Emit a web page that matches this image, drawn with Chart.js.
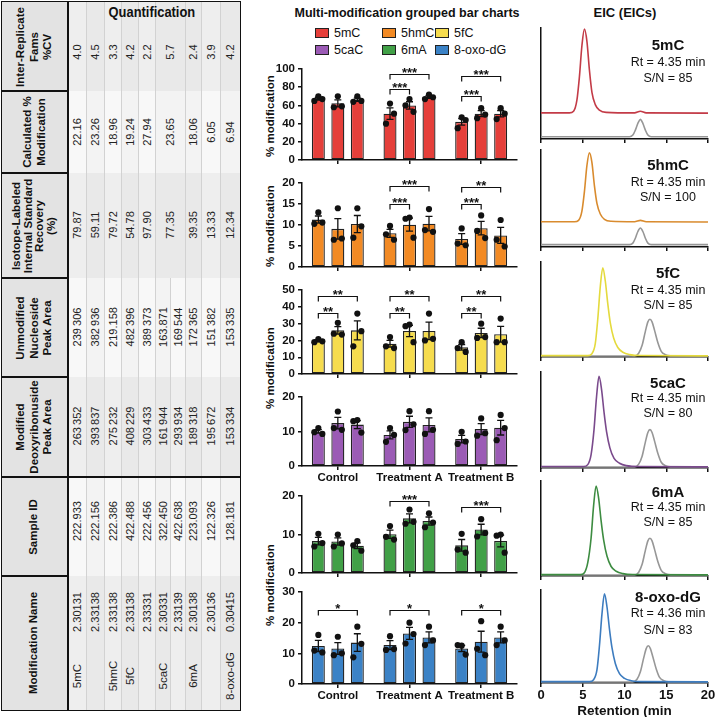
<!DOCTYPE html>
<html><head><meta charset="utf-8">
<script src="https://cdn.jsdelivr.net/npm/chart.js@4.4.1/dist/chart.umd.min.js"></script>
<style>
html,body{margin:0;padding:0;background:#fff;}
#root{position:relative;width:717px;height:717px;overflow:hidden;font-family:'Liberation Sans',Arial,Helvetica,sans-serif;color:#111;}
canvas{position:absolute;}
</style></head><body><div id="root"></div>
<script>
// ================= DATA =================
// --- Quantification table (rotated) ---
const tableHeaders = [
  ['Inter-Replicate','Fams','%CV'],
  ['Calculated %','Modification'],
  ['Isotope-Labeled','Internal Standard','Recovery','(%)'],
  ['Unmodified','Nucleoside','Peak Area'],
  ['Modified','Deoxyribonuside','Peak Area'],
  ['Sample ID'],
  ['Modification Name']
];
const interCV     = ['4.0','4.5','3.3','4.2','2.2','5.7',null,'2.4','3.9','4.2'];
const calcMod     = ['22.16','23.26','18.96','19.24','27.94','23.65',null,'18.06','6.05','6.94'];
const isoRecovery = ['79.87','59.11','79.72','54.78','97.90','77.35',null,'39.35','13.33','12.34'];
const unmodArea   = ['239\u2009306','382\u2009936','219.158','482\u2009396','389\u2009373','163.871','169\u2009544','172\u2009365','151\u2009382','153\u2009335'];
const modArea     = ['263\u2009352','393\u2009837','275\u2009232','408\u2009229','303\u2009433','161\u2009944','293\u2009934','189\u2009318','195\u2009672','153\u2009334'];
const sampleIds   = ['222.933','222.156','222.386','422.488','222.456','322.450','422.638','223.093','122.326','128.181'];
const modValues   = ['2.30131','2.33138','2.33138','2.33138','2.33331','2.30331','2.33139','2.30138','2.30136','0.30415'];
const modNames    = ['5mC','','5hmC','5fC','','5caC','','6mA','','8-oxo-dG'];

// --- Grouped bar charts ---
const groups = ['Control','Treatment A','Treatment B'];
const modifications = ['5mC','5hmC','5fC','5caC','6mA','8-oxo-dG'];
const yMaxes = [100,20,50,20,20,30];
const ySteps = [20,5,10,10,10,10];
// replicates: [group][bar][replicate]
const rep5mC  = [[[70,65,67],[70,58,59],[70,64,65]], [[62,40,51],[67,60,53],[72,67,69]], [[47,35,44],[57,46,50],[57,45,51]]];
const rep5hmC = [[[13,10.3,10.6],[14,6.5,6.8],[14,7,9.7]], [[9.8,7.8,6.5],[11.8,11.5,7.0],[13.8,8.8,8.4]], [[9.2,5.6,5.2],[12.3,8.6,6.9],[11.2,6.5,4.9]]];
const rep5fC  = [[[20.8,19,19.5],[30.5,24,23.5],[36,16.5,25.5]], [[22,16.5,15.5],[29.5,28.5,19],[36,20,21]], [[19,15.5,13.2],[30,21.5,22],[33,19,19]]];
const rep5caC = [[[11,9.8,9.3],[15.8,11,10.5],[13.3,13,9.7]], [[11,7,9],[15.9,10.4,12.1],[15.9,9.3,10.5]], [[9.9,6.4,7.1],[13.8,8.8,9.5],[14.8,7.5,11]]];
const rep6mA  = [[[10.2,6.9,7.8],[10,6.9,7.7],[8.3,7.2,5.8]], [[12.2,9.4,8.7],[16.5,12.8,13.3],[15.5,11.9,13.1]], [[10.2,6.1,5.3],[14,9.5,10.4],[10,9.7,5.3]]];
const repOxo  = [[[16,10.9,10.3],[15.4,9.4,10],[18.7,8.7,13.1]], [[15.6,11.1,11.4],[20,13.2,16.3],[18.7,12.7,14.2]], [[12.5,12.7,9.6],[20.5,11.5,9.4],[18.7,12.7,14.2]]];
// significance brackets: [group, fromBar, toBar, yValue, label]
const brk5mC  = [[1,0,1,78,'***'],[1,0,2,94.5,'***'],[2,0,1,70.5,'***'],[2,0,2,92.5,'***']];
const brk5hmC = [[1,0,1,15,'***'],[1,0,2,19.2,'***'],[2,0,1,15,'***'],[2,0,2,19,'**']];
const brk5fC  = [[0,0,1,36.2,'**'],[0,0,2,46.2,'**'],[1,0,1,36.2,'**'],[1,0,2,46.2,'**'],[2,0,1,36.2,'**'],[2,0,2,46.2,'**']];
const brk5caC = [];
const brk6mA  = [[1,0,2,18.8,'***'],[2,0,2,17.2,'***']];
const brkOxo  = [[0,0,2,24.1,'*'],[1,0,2,24.1,'*'],[2,0,2,24.1,'*']];

// --- EIC chromatograms: [retention min, relative intensity %] ---
const eicNames = ['5mC','5hmC','5fC','5caC','6mA','8-oxo-dG'];
const eicRt = ['Rt = 4.35 min','Rt = 4.35 min','Rt = 4.35 min','Rt = 4.35 min','Rt = 4.35 min','Rt = 4.36 min'];
const eicSN = ['S/N = 85','S/N = 100','S/N = 85','S/N = 80','S/N = 85','S/N = 83'];
const retentionTicks = [0,5,10,15,20];
const trace5mC  = [[0,23.5],[3.4,23.5],[3.9,25],[4.3,35],[4.6,56],[4.9,84],[5.2,99],[5.5,88],[5.8,62],[6.1,42],[6.5,31],[7.0,26],[7.8,24],[11.2,23.5],[11.9,25],[12.6,23.5],[20,23.3]];
const is5mC     = [[0,2],[10.6,2],[11.0,3.5],[11.3,8],[11.6,14],[11.9,17.7],[12.2,14],[12.5,8],[12.8,3.5],[13.2,2],[20,2]];
const trace5hmC = [[0,26],[4.0,26],[4.5,27.5],[4.9,37],[5.2,57],[5.5,84],[5.8,97],[6.1,87],[6.4,63],[6.7,45],[7.1,34],[7.6,28.5],[8.4,26.5],[11.2,26],[11.9,27.5],[12.6,26],[20,25.8]];
const is5hmC    = [[0,2.5],[10.6,2.5],[11.0,4],[11.3,9],[11.6,16],[11.9,19.6],[12.2,16],[12.5,9],[12.8,4],[13.2,2.5],[20,2.5]];
const trace5fC  = [[0,1.5],[5.6,1.5],[6.1,3.5],[6.5,14],[6.8,40],[7.1,74],[7.4,94],[7.7,80],[8.0,56],[8.3,36],[8.7,20],[9.2,10],[9.8,5],[10.6,2.5],[12,1.5],[20,1.2]];
const is5fC     = [[0,1],[11.2,1],[11.7,4],[12.1,12],[12.5,27],[12.8,37],[13.05,39.7],[13.3,37],[13.6,28],[14.0,15],[14.4,6],[14.9,2.5],[15.5,1.2],[20,1]];
const trace5caC = [[0,1.5],[5.1,1.5],[5.6,3.5],[6.0,14],[6.35,40],[6.65,74],[6.95,95.5],[7.25,82],[7.55,58],[7.85,38],[8.25,21],[8.75,10],[9.4,5],[10.2,2.5],[12,1.5],[20,1.2]];
const is5caC    = [[0,1],[11.2,1],[11.7,4],[12.1,12],[12.5,27],[12.8,37],[13.05,40],[13.3,37],[13.6,28],[14.0,15],[14.4,6],[14.9,2.5],[15.5,1.2],[20,1]];
const trace6mA  = [[0,1.5],[4.7,1.5],[5.2,3.5],[5.6,14],[6.0,40],[6.3,74],[6.6,94.7],[6.9,82],[7.2,58],[7.5,38],[7.9,21],[8.4,10],[9.0,5],[9.8,2.5],[11,1.5],[20,1.2]];
const is6mA     = [[0,1],[11.2,1],[11.7,4],[12.1,12],[12.5,27],[12.8,37],[13.05,39.7],[13.3,37],[13.6,28],[14.0,15],[14.4,6],[14.9,2.5],[15.5,1.2],[20,1]];
const traceOxo  = [[0,1.5],[5.8,1.5],[6.3,3.5],[6.7,14],[7.0,40],[7.3,74],[7.6,96],[7.9,82],[8.2,58],[8.5,38],[8.9,21],[9.4,10],[10.0,5],[10.8,2.5],[12,1.5],[20,1.2]];
const isOxo     = [[0,1],[11.0,1],[11.5,4],[11.9,12],[12.3,27],[12.6,37],[12.85,40],[13.1,37],[13.4,28],[13.8,15],[14.2,6],[14.7,2.5],[15.3,1.2],[20,1]];

// ================= STYLE / LAYOUT =================
const FAM = "'Liberation Sans', Arial, Helvetica, sans-serif";
Chart.defaults.font.family = FAM;
Chart.defaults.color = '#111';
const barColors = ['#e53f3a','#f28a24','#f6dc4e','#9b5bb5','#41a047','#3b82c6'];
const eicColors = ['#c33b47','#d98b2e','#e4da3e','#7a4a8c','#3d8c41','#3d7cbf'];
const root = document.getElementById('root');

function el(css, text){ const e=document.createElement('div'); e.style.cssText='position:absolute;'+css; if(text!=null) e.textContent=text; root.appendChild(e); return e; }
function rotText(text, cx, cy, css){ return el(`left:${cx}px;top:${cy}px;transform:translate(-50%,-50%) rotate(-90deg);white-space:pre;${css}`, text); }

// ---------------- TABLE ----------------
const sectionEdges=[2,91,173,278,377,477,576,710];
const rowEdges=[68,86,104,121,138,155,170,185,201,220,240];
const tableColumns=[interCV, calcMod, isoRecovery, unmodArea, modArea, sampleIds, modValues];
const valueY=[52,132,225,327,426,521,612];
const nameY=676;

el('left:2px;top:2px;width:66px;height:708px;background:#e3e3e3;');
for(let s=0;s<7;s++){
  const col=tableColumns[s];
  const merged = col[6]===null;
  const y0=sectionEdges[s], y1=sectionEdges[s+1];
  for(let r=0;r<10;r++){
    if(merged && r===6) continue;
    const x0=rowEdges[r], x1=(merged && r===5)?rowEdges[7]:rowEdges[r+1];
    const shade=(s%2===0?238:248)-(r%2?5:0);
    el(`left:${x0}px;top:${y0}px;width:${x1-x0}px;height:${y1-y0}px;background:rgb(${shade},${shade},${shade});`);
    if(r>0) el(`left:${x0}px;top:${y0}px;width:1px;height:${y1-y0}px;background:#d2d2d2;`);
    rotText(col[r], (x0+x1)/2, valueY[s], 'font-size:11px;color:#222;');
    if(s===6 && modNames[r]) rotText(modNames[r], (x0+x1)/2, nameY, 'font-size:11.5px;color:#222;');
  }
}
tableHeaders.forEach((lines,s)=>{
  const cy=(sectionEdges[s]+sectionEdges[s+1])/2;
  const lh = lines.length>3?11.5:13.5;
  rotText(lines.join('\n'), 34, cy, `font-weight:bold;font-size:11.5px;line-height:${lh}px;text-align:center;color:#111;`);
  if(s>0){
    const full = s===5;
    el(`left:2px;top:${sectionEdges[s]-0.75}px;width:${full?238:66}px;height:1.5px;background:#111;`);
  }
});
el('left:67.25px;top:2px;width:1.5px;height:708px;background:#111;');
el('left:1.25px;top:1.25px;width:237.5px;height:707.5px;border:1.5px solid #111;');
el('left:105px;top:3px;width:90px;text-align:center;font-weight:bold;font-size:14px;line-height:18px;background:transparent;transform:scaleX(0.92);', 'Quantification');

// ---------------- MIDDLE TITLE + LEGEND ----------------
el('left:262px;top:5px;width:290px;text-align:center;font-weight:bold;font-size:12.5px;line-height:16px;', 'Multi-modification grouped bar charts');
const legendCols=[315,382,435], legendRows=[33,50];
modifications.forEach((m,i)=>{
  const c=i%3, r=Math.floor(i/3);
  el(`left:${legendCols[c]}px;top:${legendRows[r]-5}px;width:14px;height:10px;box-sizing:border-box;border:1.3px solid #222;background:${barColors[i]};`);
  el(`left:${legendCols[c]+19}px;top:${legendRows[r]-8}px;font-size:12.5px;line-height:16px;white-space:nowrap;`, m);
});

// ---------------- BAR CHARTS ----------------
const barTops=[69,183,290,397,496,592];
const barBottoms=[163,270,377,466,576,684];
const barReps=[rep5mC,rep5hmC,rep5fC,rep5caC,rep6mA,repOxo];
const barBrackets=[brk5mC,brk5hmC,brk5fC,brk5caC,brk6mA,brkOxo];
const barShowLabels=[false,false,false,true,false,true];
const yTitleCenters=[116,226,368,585];
yTitleCenters.forEach(cy=>rotText('% modification', 270, cy, 'font-weight:bold;font-size:11.5px;color:#111;'));

const mean = a => a.reduce((p,v)=>p+v,0)/a.length;
const sem = a => { const m=mean(a); return Math.sqrt(a.reduce((p,v)=>p+(v-m)*(v-m),0)/(a.length-1))/Math.sqrt(a.length); };
const jitter=[0,-4,4];

function makeBar(i){
  const top=barTops[i], bottom=barBottoms[i], show=barShowLabels[i];
  const reps=barReps[i], brks=barBrackets[i];
  const padTop=12, xH= show?24:7;
  const h=padTop+(bottom-top)+xH;
  const cv=document.createElement('canvas');
  cv.width=258; cv.height=h;
  cv.style.cssText=`left:262px;top:${top-padTop}px;width:258px;height:${h}px;`;
  root.appendChild(cv);
  const datasets=[0,1,2].map(b=>({
    data: groups.map((_,g)=>mean(reps[g][b])),
    backgroundColor: barColors[i], borderColor:'#222', borderWidth:1.3, borderSkipped:false,
    categoryPercentage:0.816, barPercentage:0.667
  }));
  const overlay={
    id:'overlay'+i,
    afterDatasetsDraw(chart){
      const ctx=chart.ctx, ys=chart.scales.y;
      ctx.save();
      ctx.strokeStyle='#111'; ctx.fillStyle='#111'; ctx.lineWidth=1.3;
      for(let b=0;b<3;b++){
        const meta=chart.getDatasetMeta(b);
        for(let g=0;g<3;g++){
          const x=meta.data[g].x, r=reps[g][b];
          const m=mean(r), s=sem(r);
          const yt=ys.getPixelForValue(m+s), yb=ys.getPixelForValue(m-s);
          ctx.beginPath();
          ctx.moveTo(x,yt); ctx.lineTo(x,yb);
          ctx.moveTo(x-3.5,yt); ctx.lineTo(x+3.5,yt);
          ctx.moveTo(x-3.5,yb); ctx.lineTo(x+3.5,yb);
          ctx.stroke();
          r.forEach((v,k)=>{ ctx.beginPath(); ctx.arc(x+jitter[k], ys.getPixelForValue(v), 3.1, 0, Math.PI*2); ctx.fill(); });
        }
      }
      ctx.lineWidth=1.2; ctx.textAlign='center'; ctx.textBaseline='alphabetic';
      ctx.font=`bold 13px ${FAM}`;
      brks.forEach(([g,b1,b2,v,label])=>{
        const x1=chart.getDatasetMeta(b1).data[g].x, x2=chart.getDatasetMeta(b2).data[g].x;
        const y=Math.round(ys.getPixelForValue(v))+0.5;
        ctx.beginPath(); ctx.moveTo(x1,y+5); ctx.lineTo(x1,y); ctx.lineTo(x2,y); ctx.lineTo(x2,y+5); ctx.stroke();
        ctx.fillText(label,(x1+x2)/2,y+2);
      });
      ctx.restore();
    }
  };
  new Chart(cv,{
    type:'bar',
    data:{labels:groups, datasets},
    options:{
      responsive:false, animation:false, devicePixelRatio:1,
      layout:{padding:{top:padTop,right:3,left:0,bottom:0}},
      plugins:{legend:{display:false},tooltip:{enabled:false}},
      scales:{
        x:{type:'category', offset:true,
           grid:{display:true,offset:false,drawOnChartArea:false,drawTicks:true,tickLength:4,color:'#111',lineWidth:1.5},
           border:{display:true,color:'#111',width:1.5},
           ticks:{display:show,color:'#111',font:{size:11.5,weight:'bold'},padding:1,maxRotation:0,autoSkip:false},
           afterFit:s=>{s.height=xH;}},
        y:{min:0,max:yMaxes[i],
           ticks:{stepSize:ySteps[i],color:'#111',font:{size:11.5,weight:'bold'},padding:3},
           grid:{display:true,drawOnChartArea:false,drawTicks:true,tickLength:4,color:'#111',lineWidth:1.5},
           border:{display:true,color:'#111',width:1.5},
           afterFit:s=>{s.width=40;}}
      }
    },
    plugins:[overlay]
  });
}
for(let i=0;i<6;i++) makeBar(i);

// ---------------- EIC ----------------
el('left:560px;top:5px;width:130px;text-align:center;font-weight:bold;font-size:13px;line-height:16px;', 'EIC (EICs)');
const eicTops=[28,150,262,372,481,590];
const eicBottoms=[139,247,357,468,576,683];
const eicTraces=[trace5mC,trace5hmC,trace5fC,trace5caC,trace6mA,traceOxo];
const eicIS=[is5mC,is5hmC,is5fC,is5caC,is6mA,isOxo];
const eicNameY=[45,165,273,383,492,597], eicRtY=[62,182,290,398,507,613], eicSNY=[78,197,305,413,522,630];

function makeEic(i){
  const top=eicTops[i], bottom=eicBottoms[i], last=(i===5);
  const padTop=4, xH= last?36:6;
  const h=padTop+(bottom-top)+xH;
  const cv=document.createElement('canvas');
  cv.width=187; cv.height=h;
  cv.style.cssText=`left:530px;top:${top-padTop}px;width:187px;height:${h}px;`;
  root.appendChild(cv);
  new Chart(cv,{
    type:'line',
    data:{datasets:[
      {data:eicTraces[i].map(([x,y])=>({x,y})), borderColor:eicColors[i], borderWidth:1.6, pointRadius:0, cubicInterpolationMode:'monotone', fill:false},
      {data:eicIS[i].map(([x,y])=>({x,y})), borderColor:'#979797', borderWidth:1.6, pointRadius:0, cubicInterpolationMode:'monotone', fill:false}
    ]},
    options:{
      responsive:false, animation:false, devicePixelRatio:1,
      layout:{padding:{top:padTop,right:9,left:0,bottom:0}},
      plugins:{legend:{display:false},tooltip:{enabled:false}},
      scales:{
        x:{type:'linear',min:0,max:20,
           afterBuildTicks:s=>{s.ticks=retentionTicks.map(v=>({value:v}));},
           ticks:{display:last,color:'#111',font:{size:13,weight:'bold'},padding:1,maxRotation:0},
           grid:{display:true,drawOnChartArea:false,drawTicks:true,tickLength:4,color:'#111',lineWidth:1.5},
           border:{display:true,color:'#111',width:1.5},
           title:{display:last,text:'Retention (min',color:'#111',font:{size:13.5,weight:'bold'},padding:{top:0,bottom:0}},
           afterFit:s=>{s.height=xH;}},
        y:{min:0,max:100,ticks:{display:false},grid:{display:false},
           border:{display:true,color:'#111',width:1.5},
           afterFit:s=>{s.width=11;}}
      }
    }
  });
  el(`left:618px;top:${eicNameY[i]-9}px;width:100px;text-align:center;font-weight:bold;font-size:15px;line-height:18px;`, eicNames[i]);
  el(`left:618px;top:${eicRtY[i]-8}px;width:100px;text-align:center;font-size:12.5px;line-height:16px;`, eicRt[i]);
  el(`left:618px;top:${eicSNY[i]-8}px;width:100px;text-align:center;font-size:12.5px;line-height:16px;`, eicSN[i]);
}
for(let i=0;i<6;i++) makeEic(i);
</script>
</body></html>
